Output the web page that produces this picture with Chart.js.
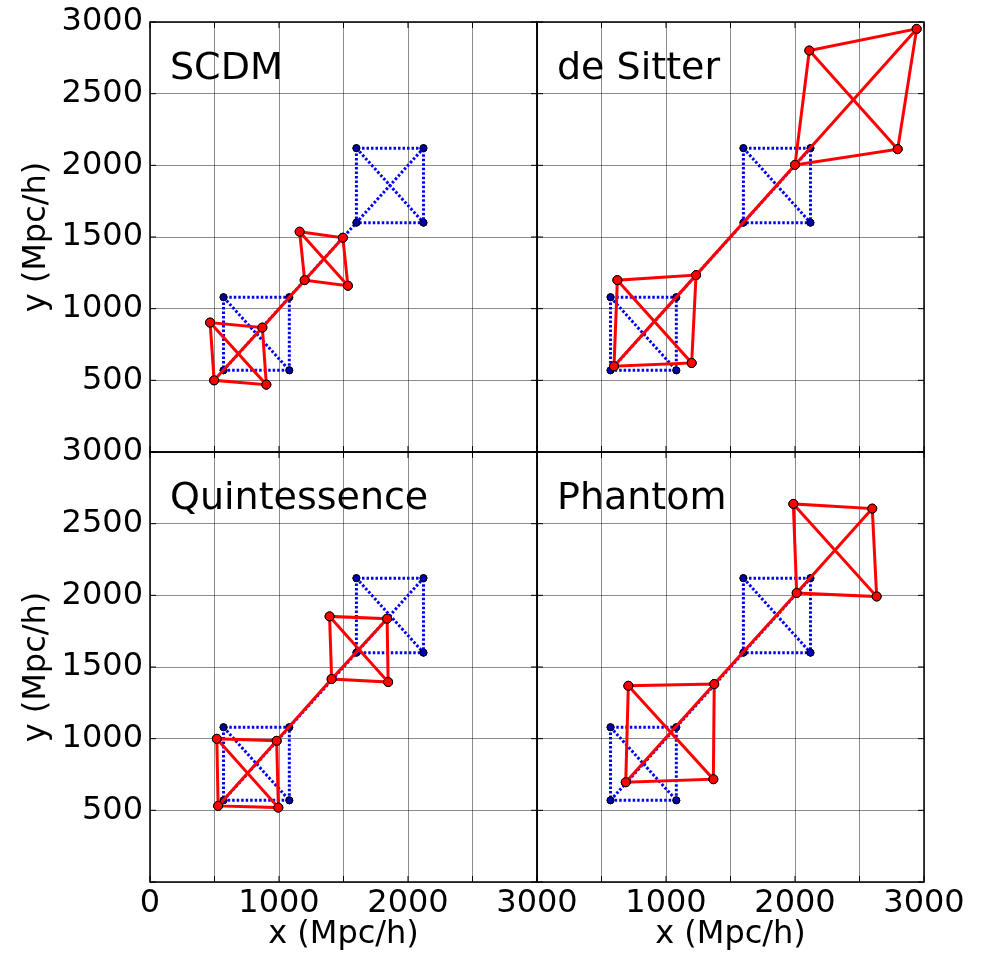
<!DOCTYPE html>
<html>
<head>
<meta charset="utf-8">
<script src="https://cdn.jsdelivr.net/npm/chart.js@4.4.0/dist/chart.umd.min.js"></script>
<style>
  html, body { margin: 0; padding: 0; background: #fff; }
  body { width: 981px; height: 959px; position: relative; overflow: hidden; }
  canvas { position: absolute; }
</style>
</head>
<body>
<canvas id="scdm"></canvas>
<canvas id="desitter"></canvas>
<canvas id="quint"></canvas>
<canvas id="phantom"></canvas>
<script>
// corners of each square, order: bottom-left, bottom-right, top-right, top-left (Mpc/h)
const initialNear = [[570, 570], [1080, 570], [1080, 1080], [570, 1080]];
const initialFar  = [[1600, 1600], [2120, 1600], [2120, 2120], [1600, 2120]];

const scdmNear = [[497, 500], [902, 470], [871, 868], [466, 903]];
const scdmFar  = [[1199, 1199], [1534, 1160], [1495, 1495], [1160, 1537]];

const deSitterNear = [[597, 598], [1199, 621], [1233, 1234], [623, 1199]];
const deSitterFar  = [[2000, 2003], [2796, 2113], [2943, 2952], [2111, 2801]];

const quintNear = [[528, 531], [995, 519], [982, 985], [518, 999]];
const quintFar  = [[1408, 1416], [1846, 1395], [1838, 1837], [1392, 1853]];

const phantomNear = [[688, 696], [1367, 717], [1374, 1381], [708, 1369]];
const phantomFar  = [[2013, 2016], [2633, 1992], [2599, 2605], [1987, 2638]];

const xTickLabelsLeft  = [0, 1000, 2000, 3000];
const xTickLabelsRight = [1000, 2000, 3000];
const yTickLabels = [500, 1000, 1500, 2000, 2500, 3000];

Chart.defaults.font.family = '"DejaVu Sans", sans-serif';
Chart.defaults.color = '#000';

const toPts = arr => arr.map(p => ({ x: p[0], y: p[1] }));
// outline + one diagonal in a single stroke (tl -> br -> bl -> tl -> tr -> br)
const squareTrace = c => [c[3], c[1], c[0], c[3], c[2], c[1]];
// long diagonal through both squares
const spine = (a, b) => [a[0], a[2], b[0], b[2]];

function lineSets(near, far, red) {
    const style = red ? {
        borderColor: '#ff0000', borderWidth: 3,
        pointBackgroundColor: '#ff0000', pointBorderColor: '#000', pointBorderWidth: 1, pointRadius: 4.5,
        order: 1
    } : {
        borderColor: '#0000ff', borderWidth: 3, borderDash: [2.5, 2],
        pointBackgroundColor: '#0000aa', pointBorderColor: '#000', pointBorderWidth: 1, pointRadius: 3.5,
        order: 2
    };
    return [spine(near, far), squareTrace(near), squareTrace(far)].map(path => Object.assign({
        data: toPts(path), showLine: true, tension: 0, borderCapStyle: 'butt', pointHoverRadius: 0
    }, style));
}

const framePlugin = {
    id: 'frame',
    afterDraw(chart, args, opts) {
        const { ctx, chartArea: a, scales: { x, y } } = chart;
        ctx.save();
        ctx.strokeStyle = '#000';
        ctx.lineWidth = 1;
        ctx.beginPath();
        x.ticks.forEach(t => {
            const px = x.getPixelForValue(t.value);
            ctx.moveTo(px, a.bottom); ctx.lineTo(px, a.bottom - 6);
            ctx.moveTo(px, a.top); ctx.lineTo(px, a.top + 6);
        });
        y.ticks.forEach(t => {
            const py = y.getPixelForValue(t.value);
            ctx.moveTo(a.left, py); ctx.lineTo(a.left + 6, py);
            ctx.moveTo(a.right, py); ctx.lineTo(a.right - 6, py);
        });
        ctx.stroke();
        ctx.lineWidth = 1.5;
        ctx.strokeRect(a.left, a.top, a.right - a.left, a.bottom - a.top);
        ctx.fillStyle = '#000';
        ctx.font = '38px "DejaVu Sans"';
        ctx.textBaseline = 'alphabetic';
        ctx.textAlign = 'left';
        ctx.fillText(opts.text, a.left + 20, a.top + 57);
        ctx.restore();
    }
};

function fixSize(w, h) {
    return scale => {
        if (w !== null) scale.width = w;
        if (h !== null) scale.height = h;
        scale.paddingLeft = scale.paddingRight = scale.paddingTop = scale.paddingBottom = 0;
    };
}

function makePanel(id, name, near, far, isLeft, isBottom) {
    const canvas = document.getElementById(id);
    const cl = isLeft ? 0 : 529;
    const ct = isBottom ? 430 : 0;
    const cw = isLeft ? 600 : 452;
    const ch = isBottom ? 529 : 460;
    canvas.width = cw; canvas.height = ch;
    canvas.style.left = cl + 'px'; canvas.style.top = ct + 'px';
    canvas.style.width = cw + 'px'; canvas.style.height = ch + 'px';

    const xLabels = isLeft ? xTickLabelsLeft : xTickLabelsRight;
    const tickFont = { size: 32 };
    const grid = { color: 'rgba(0,0,0,0.45)', lineWidth: 1, drawTicks: false };

    new Chart(canvas, {
        type: 'scatter',
        data: { datasets: [...lineSets(near, far, true), ...lineSets(initialNear, initialFar, false)] },
        options: {
            responsive: false,
            animation: false,
            events: [],
            layout: { padding: { left: 0, top: 22, right: isLeft ? 600 - 537 : 981 - 924, bottom: isBottom ? 0 : 8 } },
            plugins: { legend: { display: false }, tooltip: { enabled: false }, frame: { text: name } },
            scales: {
                x: {
                    type: 'linear', min: 0, max: 3000,
                    grid: grid, border: { display: false },
                    ticks: {
                        display: isBottom, stepSize: 500, autoSkip: false, maxRotation: 0, minRotation: 0,
                        padding: 2, font: tickFont,
                        callback: v => xLabels.includes(v) ? String(v) : ''
                    },
                    title: { display: isBottom, text: 'x (Mpc/h)', font: { size: 32 }, padding: { top: 0, bottom: 5 } },
                    afterFit: fixSize(null, isBottom ? 77 : 0)
                },
                y: {
                    type: 'linear', min: 0, max: 3000,
                    grid: grid, border: { display: false },
                    ticks: {
                        display: isLeft, stepSize: 500, autoSkip: false, padding: 7, font: tickFont,
                        callback: v => yTickLabels.includes(v) ? String(v) : ''
                    },
                    title: { display: isLeft, text: 'y (Mpc/h)', font: { size: 32 }, padding: { top: 17, bottom: 0 } },
                    afterFit: fixSize(isLeft ? 150 : 8, null)
                }
            }
        },
        plugins: [framePlugin]
    });
}

makePanel('scdm', 'SCDM', scdmNear, scdmFar, true, false);
makePanel('desitter', 'de Sitter', deSitterNear, deSitterFar, false, false);
makePanel('quint', 'Quintessence', quintNear, quintFar, true, true);
makePanel('phantom', 'Phantom', phantomNear, phantomFar, false, true);
</script>
</body>
</html>
